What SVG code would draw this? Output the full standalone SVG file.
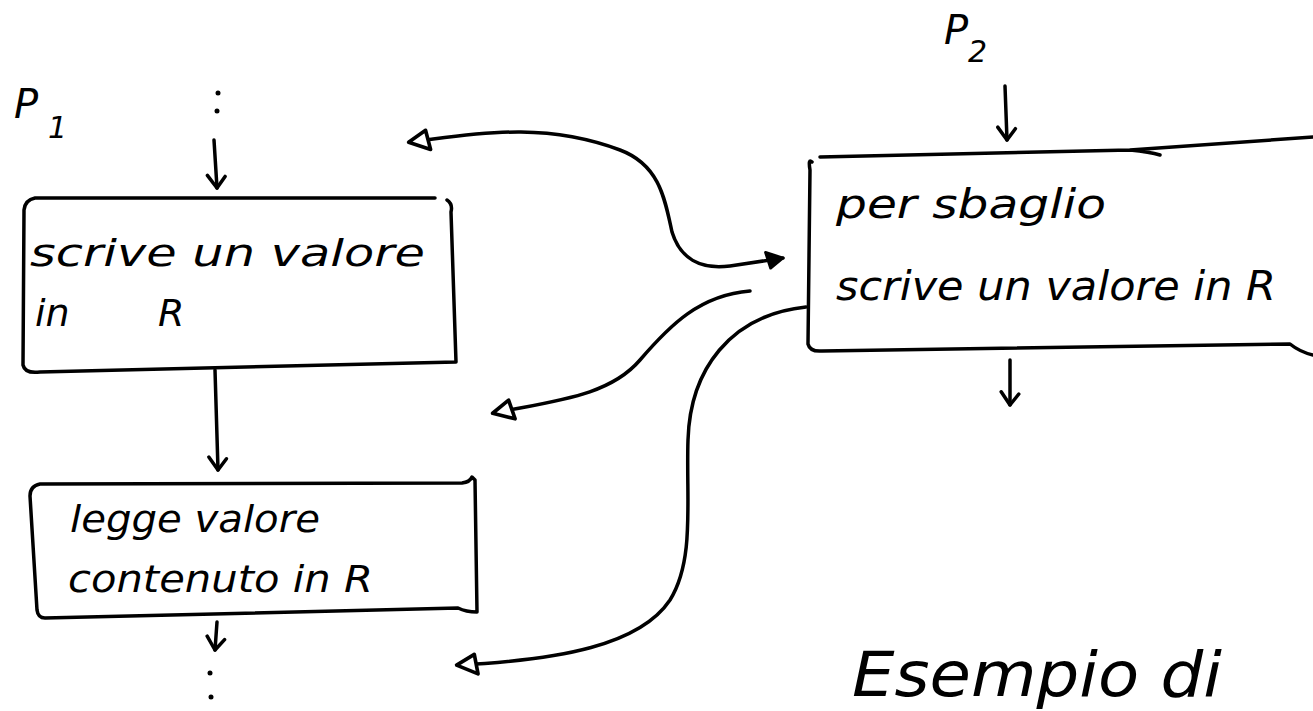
<svg xmlns="http://www.w3.org/2000/svg" width="1313" height="711" viewBox="0 0 1313 711">
<style>
.s{fill:none;stroke:#000;stroke-width:3.5;stroke-linecap:round;stroke-linejoin:round}
.t{font-family:"DejaVu Sans",sans-serif;font-style:italic;fill:#000}
.lab{font-family:"DejaVu Sans",sans-serif;font-style:italic;fill:#000;font-size:40px}
.sub{font-family:"DejaVu Sans",sans-serif;font-style:italic;fill:#000;font-size:30px}
</style>
<defs>
<marker id="tri" viewBox="0 0 20 20" refX="17" refY="10" markerWidth="28" markerHeight="28" markerUnits="userSpaceOnUse" orient="auto-start-reverse">
<path d="M18,10 L3,3 L5,17 Z" fill="#fff" stroke="#000" stroke-width="2.6" stroke-linejoin="round"/>
</marker>
<marker id="fwd" viewBox="0 0 16 16" refX="14" refY="8" markerWidth="22" markerHeight="22" markerUnits="userSpaceOnUse" orient="auto">
<path d="M14,8 L2,2 L4,14 Z" fill="#000" stroke="#000" stroke-width="2" stroke-linejoin="round"/>
</marker>
<marker id="dn" viewBox="0 0 20 20" refX="18" refY="10" markerWidth="22" markerHeight="22" markerUnits="userSpaceOnUse" orient="auto">
<path d="M8,2 L18,10 L6,18" fill="none" stroke="#000" stroke-width="3.2" stroke-linecap="round" stroke-linejoin="round"/>
</marker>
</defs>
<rect width="1313" height="711" fill="#fff"/>

<g id="label-p1">
<text class="lab" x="14" y="118">P</text>
<text class="sub" x="48" y="138">1</text>
</g>
<g id="label-p2">
<text class="lab" x="944" y="44">P</text>
<text class="sub" x="968" y="62">2</text>
</g>

<g id="node-scrive">
<path class="s" d="M35,198 L435,198 M447,200 Q453,204 451,212 L456,362 M456,362 L40,372 Q25,374 23,365 L24,210 Q25,200 35,198"/>
<text class="t" font-size="38" x="30" y="266" textLength="395" lengthAdjust="spacingAndGlyphs">scrive un valore</text>
<text class="t" font-size="38" x="35" y="326">in</text>
<text class="t" font-size="38" x="158" y="326">R</text>
</g>

<g id="node-legge">
<path class="s" d="M40,484 L462,483 Q470,482 472,477 L475,480 L477,612 Q466,612 458,608 L45,618 Q38,618 37,610 L30,496 Q30,486 40,484"/>
<text class="t" font-size="38" x="70" y="532" textLength="250" lengthAdjust="spacingAndGlyphs">legge valore</text>
<text class="t" font-size="38" x="68" y="592" textLength="305" lengthAdjust="spacingAndGlyphs">contenuto in R</text>
</g>

<g id="node-sbaglio">
<path class="s" d="M820,157 L1130,150 L1313,137 M812,162 Q808,158 810,170 L808,344 Q810,352 822,351 L1290,344 Q1300,352 1313,355 M1130,150 Q1150,152 1160,155"/>
<text class="t" font-size="40" x="836" y="218" textLength="270" lengthAdjust="spacingAndGlyphs">per sbaglio</text>
<text class="t" font-size="40" x="836" y="300" textLength="440" lengthAdjust="spacingAndGlyphs">scrive un valore in R</text>
</g>

<g id="caption">
<text class="t" font-size="62" x="852" y="696" textLength="370" lengthAdjust="spacingAndGlyphs">Esempio di</text>
</g>

<g id="connectors">
<circle cx="218" cy="93" r="2.5" fill="#000"/>
<circle cx="217" cy="111" r="2.5" fill="#000"/>
<path class="s" d="M214,140 L217,188" marker-end="url(#dn)"/>
<path class="s" d="M215,370 L218,470" marker-end="url(#dn)"/>
<path class="s" d="M217,622 L215,650" marker-end="url(#dn)"/>
<circle cx="210" cy="673" r="2.5" fill="#000"/>
<circle cx="211" cy="697" r="2.5" fill="#000"/>
<path class="s" d="M1005,86 L1007,140" marker-end="url(#dn)"/>
<path class="s" d="M1010,360 L1010,405" marker-end="url(#dn)"/>
<path class="s" d="M410,142 C470,135 540,120 620,150 C660,165 665,200 672,232 C680,258 700,270 730,266 L783,258" marker-start="url(#tri)" marker-end="url(#fwd)"/>
<path class="s" d="M750,291 C700,295 670,325 640,360 C610,395 560,400 494,413" marker-end="url(#tri)"/>
<path class="s" d="M806,307 C730,315 690,370 688,440 C686,500 695,560 670,600 C640,645 560,660 458,665" marker-end="url(#tri)"/>
</g>
</svg>
